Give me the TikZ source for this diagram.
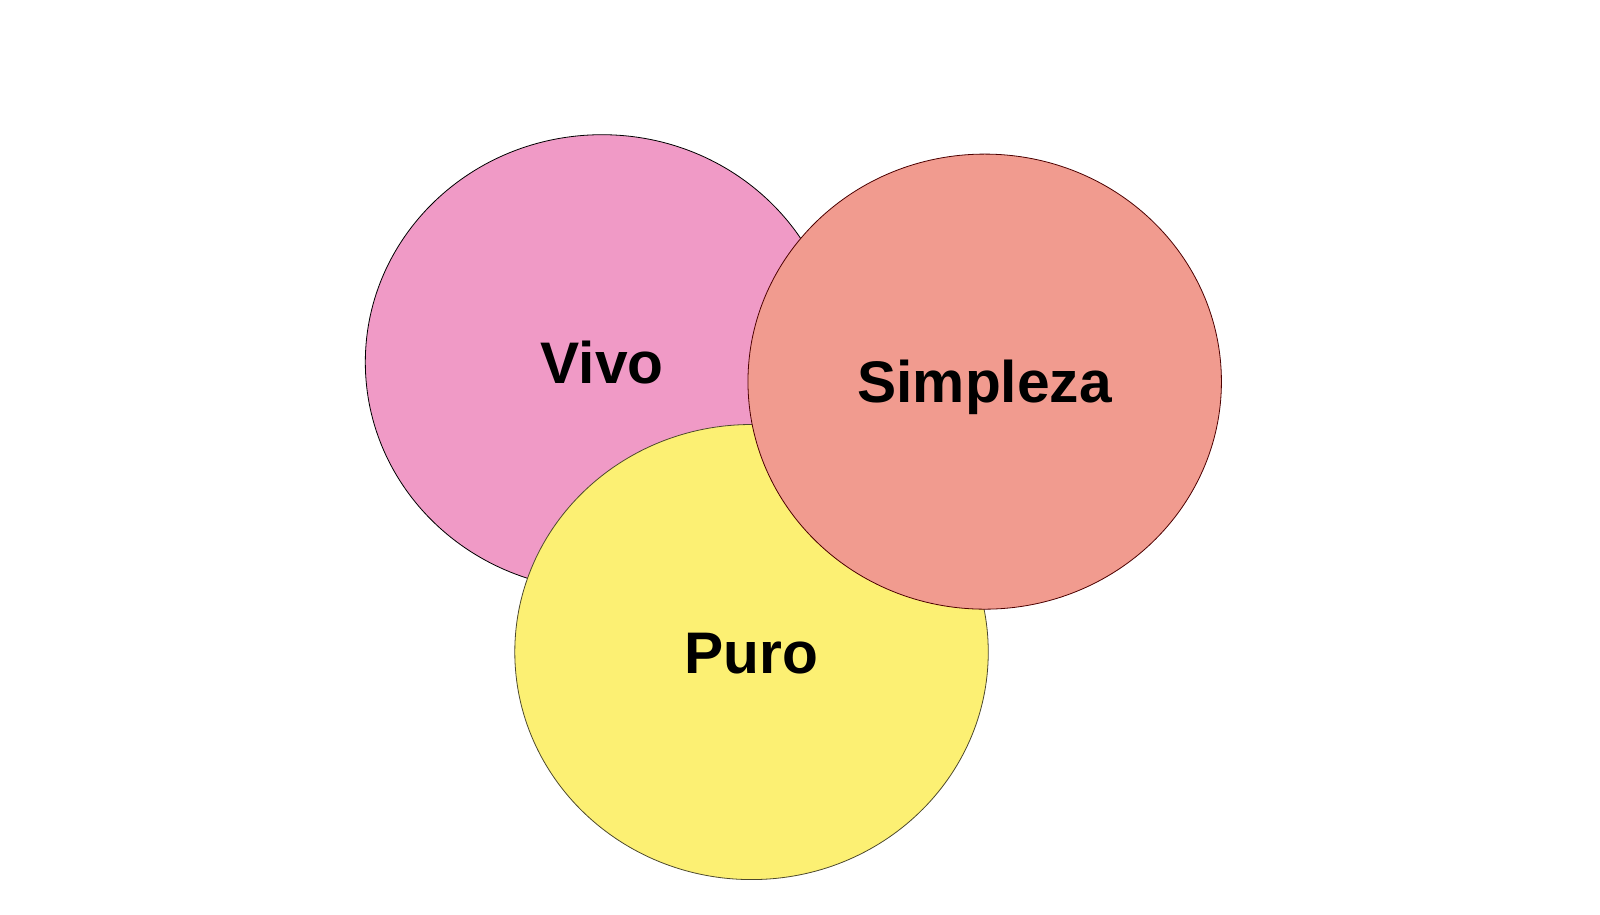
\documentclass[tikz,border=0pt]{standalone}
\usepackage{fontspec}
\setmainfont{Liberation Sans}
\usetikzlibrary{shapes.geometric}

\definecolor{vivopink}{HTML}{F09AC6}
\definecolor{simplezared}{HTML}{F19B8F}
\definecolor{puroyellow}{HTML}{FCF073}

\tikzset{
  blob/.style={ellipse, draw, line width=0.6pt, inner sep=0pt,
    minimum width=355.1pt, minimum height=341.3pt,
    font=\fontsize{44}{50}\selectfont\bfseries,
    text height=31.5pt, text depth=0pt}
}

\begin{document}
\begin{tikzpicture}[x=0.7653pt, y=-0.7653pt]
  \useasboundingbox (0,0) rectangle (1568,896.7);

  \node[blob, fill=vivopink, draw=black] (vivo) at (590,355) {Vivo};
  \node[blob, fill=puroyellow, draw=black!60!olive] (puro) at (736.5,639) {Puro};
  \node[blob, fill=simplezared, draw=black!70!red] (simpleza) at (965,374) {Simpleza};
\end{tikzpicture}
\end{document}
